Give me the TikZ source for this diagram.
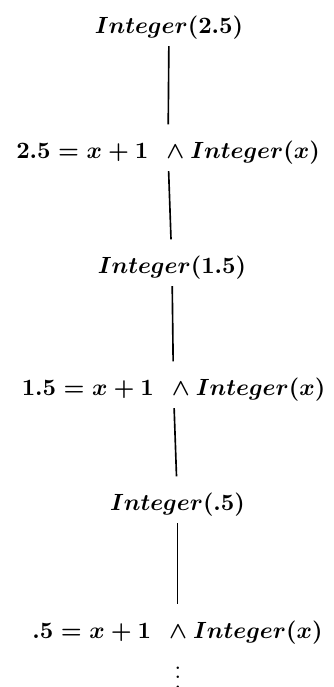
\documentclass[tikz,border=0pt]{standalone}
\usepackage{amsmath, amssymb}
\usepackage{tikz}
\usetikzlibrary{positioning}

\begin{document}
\begin{tikzpicture}[x=0.015cm, y=-0.015cm, font=\boldmath,
          link/.style={line width=0.7pt, shorten <=2.5pt, shorten >=7pt}]
        \useasboundingbox (0,0) rectangle (334,687);
        \foreach \i/\xx/\yy/\t in {1/169/28/2.5, 2/172/268/1.5, 3/177.5/505/.5}{
          \node[inner sep=0pt] (g\i) at (\xx,\yy) {$Integer(\t)$};
        }
        \foreach \i/\xx/\yy/\t in {1/168/153/2.5, 2/173.5/390/1.5, 3/177.5/633/.5}{
          \node[inner sep=0pt] (c\i) at (\xx,\yy) {$\t = x + 1\;\,\wedge Integer(x)$};
        }
        \node[inner sep=0pt] (more) at (178,670.5) {$\vdots$};
        \draw[link] (g1) -- (c1);
        \draw[link] (c1) -- (g2);
        \draw[link] (g2) -- (c2);
        \draw[link] (c2) -- (g3);
        \draw[link] (g3) -- (c3);
      \end{tikzpicture}
\end{document}
